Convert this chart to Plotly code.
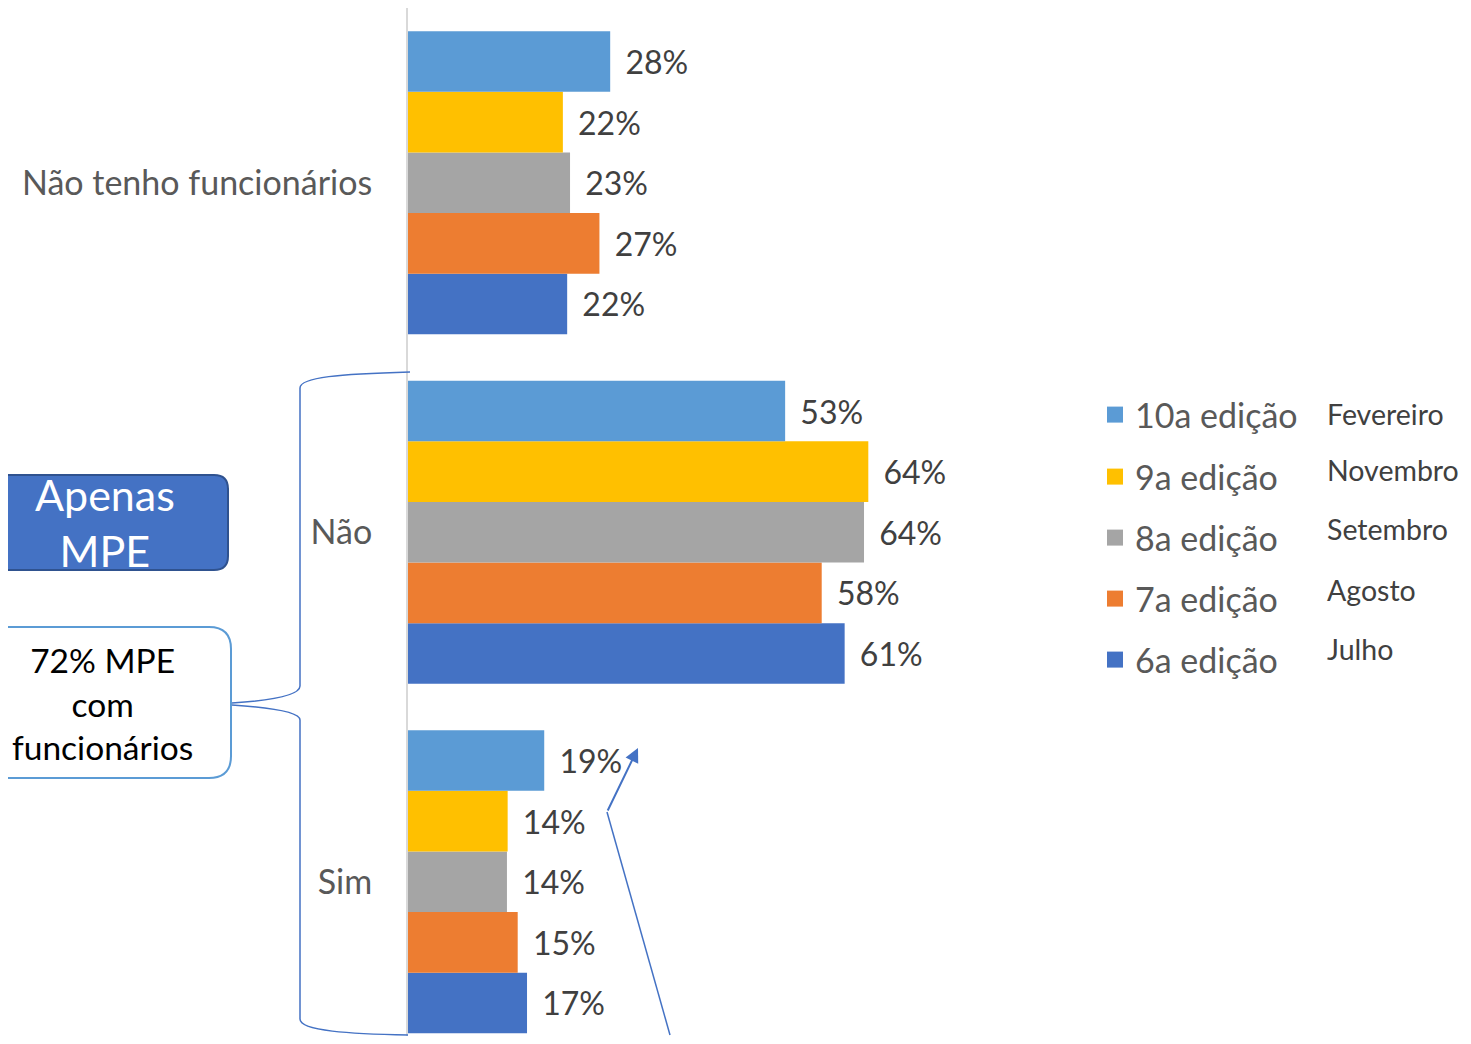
import plotly.graph_objects as go

# ---------------- data ----------------
categories = ["Não tenho funcionários", "Não", "Sim"]
series_names = ["10a edição", "9a edição", "8a edição", "7a edição", "6a edição"]
months = ["Fevereiro", "Novembro", "Setembro", "Agosto", "Julho"]
series_colors = ["#5B9BD5", "#FFC000", "#A5A5A5", "#ED7D31", "#4472C4"]
values_10a = [28.2, 52.6, 19.0]
values_9a = [21.6, 64.2, 13.9]
values_8a = [22.6, 63.6, 13.8]
values_7a = [26.7, 57.7, 15.3]
values_6a = [22.2, 60.9, 16.6]
series_values = [values_10a, values_9a, values_8a, values_7a, values_6a]

# page is rendered with an 8px body margin -> work in page pixels, shift into figure pixels
OFF = 8
PW, PH = 1471, 1044
W, H = PW - OFF, PH - 2 * OFF
FONT = "Lato, 'Open Sans', sans-serif"


def X(px):
    return (px - OFF) / W


def Y(py):
    return 1 - (py - OFF) / H


def path(points_cmds):
    out = []
    for cmd, pts in points_cmds:
        coords = " ".join(f"{X(x):.5f},{Y(y):.5f}" for x, y in pts)
        out.append(f"{cmd} {coords}")
    return " ".join(out)


def rounded_rect(x0, y0, x1, y1, r):
    return path([
        ("M", [(x0 + r, y0)]),
        ("L", [(x1 - r, y0)]),
        ("Q", [(x1, y0), (x1, y0 + r)]),
        ("L", [(x1, y1 - r)]),
        ("Q", [(x1, y1), (x1 - r, y1)]),
        ("L", [(x0 + r, y1)]),
        ("Q", [(x0, y1), (x0, y1 - r)]),
        ("L", [(x0, y0 + r)]),
        ("Q", [(x0, y0), (x0 + r, y0)]),
    ]) + " Z"


fig = go.Figure()

# plotly draws the first grouped trace at the bottom of each group -> add 6a first
for i in reversed(range(len(series_names))):
    fig.add_trace(go.Bar(
        y=categories, x=series_values[i], name=series_names[i], orientation="h",
        marker=dict(color=series_colors[i], line=dict(width=0)),
        texttemplate="\u00a0\u2009%{x:.0f}%", textposition="outside",
        textfont=dict(family=FONT, size=32, color="#404040"),
        cliponaxis=False, showlegend=False, hoverinfo="skip",
    ))

# legend entries (square swatches), one legend per row
for i in range(len(series_names)):
    leg = "legend" if i == 0 else f"legend{i + 1}"
    fig.add_trace(go.Scatter(
        x=[None], y=[None], mode="markers", name=series_names[i],
        marker=dict(symbol="square", size=21, color=series_colors[i]),
        legend=leg, showlegend=True, hoverinfo="skip",
    ))

axis_px = 408
px_per_unit = 7.17
x_max = (PW - axis_px) / px_per_unit
band = 349.5
plot_top, plot_bottom = 8, PH - OFF
y_top = 2.5
y_bottom = y_top - (plot_bottom - plot_top) / band

layout = dict(
    width=W, height=H,
    margin=dict(l=0, r=0, t=0, b=0),
    paper_bgcolor="white", plot_bgcolor="white",
    barmode="group", bargap=0.133, bargroupgap=0,
    font=dict(family=FONT, color="#595959"),
    xaxis=dict(domain=[X(axis_px), 1], range=[0, x_max], visible=False, fixedrange=True),
    yaxis=dict(domain=[0, Y(plot_top)], type="category",
               categoryorder="array", categoryarray=categories[::-1],
               range=[y_bottom, y_top], showline=True, linecolor="#D9D9D9", linewidth=2,
               showgrid=False, ticks="", ticklabelstandoff=27, automargin=False,
               tickfont=dict(family=FONT, size=34, color="#595959"), fixedrange=True),
    showlegend=True,
)

legend_rows = [415, 477, 538, 599, 660]
for i, name in enumerate(series_names):
    key = "legend" if i == 0 else f"legend{i + 1}"
    layout[key] = dict(x=X(1095), y=Y(legend_rows[i]), xanchor="left", yanchor="middle",
                       bgcolor="rgba(0,0,0,0)", borderwidth=0, itemsizing="trace",
                       font=dict(family=FONT, size=34, color="#595959"))

fig.update_layout(**layout)

month_rows = [414, 470, 529, 590, 649]
annotations = []
for i, m in enumerate(months):
    annotations.append(dict(xref="paper", yref="paper", x=X(1325), y=Y(month_rows[i]),
                            xanchor="left", yanchor="middle", showarrow=False, text=m,
                            font=dict(family=FONT, size=28.5, color="#404040")))

shapes = []
# "Apenas MPE" box
shapes.append(dict(type="path", xref="paper", yref="paper",
                   path=rounded_rect(-12, 475, 228, 570, 14),
                   fillcolor="#4472C4", line=dict(color="#2F528F", width=2), layer="above"))
annotations.append(dict(xref="paper", yref="paper", x=X(105), y=Y(522), showarrow=False,
                        xanchor="center", yanchor="middle",
                        text="Apenas<br>MPE", align="center",
                        font=dict(family=FONT, size=43, color="white")))
# "72% MPE com funcionários" box
shapes.append(dict(type="path", xref="paper", yref="paper",
                   path=rounded_rect(-12, 627, 231, 778, 22),
                   fillcolor="white", line=dict(color="#5B9BD5", width=2), layer="above"))
annotations.append(dict(xref="paper", yref="paper", x=X(102), y=Y(703), showarrow=False,
                        xanchor="center", yanchor="middle",
                        text="72% MPE<br>com<br>funcionários", align="center",
                        font=dict(family=FONT, size=33.5, color="black")))
# braces
shapes.append(dict(type="path", xref="paper", yref="paper", layer="above",
                   line=dict(color="#4472C4", width=1.5),
                   path=path([("M", [(410, 372)]), ("C", [(340, 374), (300, 377), (300, 388)]),
                              ("L", [(300, 686)]), ("C", [(300, 697), (262, 701), (232, 703)])])))
shapes.append(dict(type="path", xref="paper", yref="paper", layer="above",
                   line=dict(color="#4472C4", width=1.5),
                   path=path([("M", [(232, 705)]), ("C", [(262, 707), (300, 711), (300, 720)]),
                              ("L", [(300, 1019)]), ("C", [(300, 1031), (350, 1034), (408, 1035)])])))
# arrow
shapes.append(dict(type="line", xref="paper", yref="paper", layer="above",
                   x0=X(670), y0=Y(1035), x1=X(607), y1=Y(812),
                   line=dict(color="#4472C4", width=1.5)))
annotations.append(dict(xref="paper", yref="paper", x=X(638), y=Y(748), ax=-31, ay=64,
                        showarrow=True, arrowhead=2, arrowsize=1.4, arrowwidth=2,
                        arrowcolor="#4472C4", text=""))

fig.update_layout(shapes=shapes, annotations=annotations)
fig.write_html("out.html", config={"displayModeBar": False})
